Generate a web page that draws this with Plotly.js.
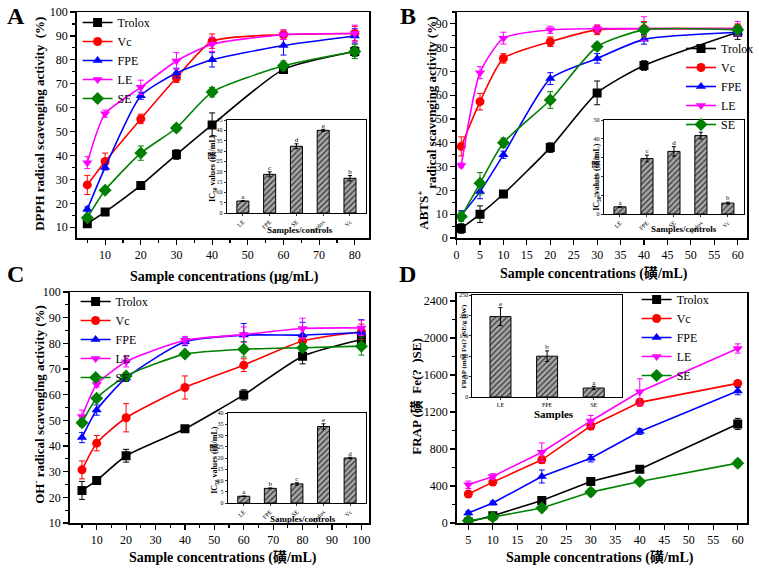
<!DOCTYPE html>
<html>
<head>
<meta charset="utf-8">
<script src="https://cdn.plot.ly/plotly-3.0.1.min.js"></script>
<style>body{margin:0;background:#fff}#chart{width:759px;height:571px}</style>
</head>
<body>
<div id="chart"></div>
<script>
// series names and styles
const names = ['Trolox', 'Vc', 'FPE', 'LE', 'SE'];
const colors = ['#000000', '#ff0000', '#0000ff', '#ff00ff', '#008000'];
const symbols = ['square', 'circle', 'triangle-up', 'triangle-down', 'diamond'];

// panel A - DPPH
const concA = [5, 10, 20, 30, 40, 60, 80];
const dpphVals = [
    [11.5, 16.4, 27.5, 40.4, 52.8, 76, 83.5],
    [27.7, 37.5, 55.3, 72.5, 87.8, 90.5, 91],
    [17.5, 35, 65, 74.5, 80, 86, 90],
    [37, 57.5, 68.5, 79.5, 86.5, 90.5, 91],
    [14, 25.5, 41, 51.5, 66.5, 77.5, 83.5]
];
const dpphErr = [
    [1.5, 1, 1.5, 2, 5, 1.5, 2],
    [4, 3.5, 2, 2, 3, 2, 3],
    [1, 1, 1.5, 2, 3, 4, 3],
    [2.5, 1.5, 3, 3.5, 3, 2, 3.5],
    [1, 1, 3, 1.5, 2, 2, 3]
];

// panel B - ABTS
const concB = [1, 5, 10, 20, 30, 40, 60];
const abtsVals = [
    [4, 10, 18.5, 38, 61, 72.5, 86.5],
    [38.5, 57.3, 75.5, 82.5, 87.5, 88, 88],
    [9.5, 19.5, 35, 67, 75.5, 83.5, 86.5],
    [30.5, 69.5, 84, 87.5, 88, 88, 88],
    [9, 23, 40, 58, 80.5, 87.5, 87.5]
];
const abtsErr = [
    [2, 3.5, 1.5, 2, 5, 2, 3],
    [4, 3.5, 2, 2, 2, 3, 2],
    [2, 3, 1.5, 2.5, 2, 2, 1.5],
    [1, 2.5, 2.5, 1.5, 1.5, 5, 3],
    [2, 4.5, 2, 3.5, 1.5, 3, 2]
];

// panel C - OH
const concC = [5, 10, 20, 40, 60, 80, 100];
const ohVals = [
    [22.7, 26.6, 36.2, 46.7, 59.9, 75, 81.5],
    [30.7, 41.1, 51, 62.8, 71.5, 80.9, 84.5],
    [43.3, 54, 66.5, 80.6, 83.2, 83.2, 84.2],
    [51.5, 64, 72.8, 81.2, 83.4, 85.8, 86],
    [49.1, 58.6, 67.3, 75.8, 77.7, 78.3, 78.9]
];
const ohErr = [
    [3.5, 1, 2.5, 1, 2, 3, 2],
    [3.5, 3, 5.5, 4.5, 2.5, 2, 3],
    [2, 2, 1, 1.5, 4.5, 5, 5],
    [2.5, 1, 2, 1.5, 3, 4, 3],
    [1.5, 1, 1, 1, 3, 1.5, 3.5]
];

// panel D - FRAP
const concD = [5, 10, 20, 30, 40, 60];
const frapVals = [
    [10, 79, 244, 449, 582, 1071],
    [313, 442, 683, 1049, 1304, 1509],
    [108, 216, 503, 700, 988, 1426],
    [413, 503, 765, 1103, 1419, 1886],
    [25, 65, 162, 334, 449, 647]
];
const frapErr = [
    [10, 20, 20, 30, 30, 60],
    [30, 30, 40, 40, 40, 30],
    [20, 20, 70, 40, 30, 40],
    [40, 30, 100, 60, 140, 50],
    [20, 20, 30, 40, 30, 40]
];

// inset bar charts
const icCats = ['LE', 'FPE', 'SE', 'Trolox', 'Vc'];
const icDpph = [5.8, 18.7, 32.3, 40, 16.8];
const icDpphErr = [0.2, 1.2, 1.2, 0.5, 1.3];
const icDpphLet = ['a', 'c', 'd', 'e', 'b'];
const icAbts = [3.8, 29.5, 33.3, 41.7, 5.8];
const icAbtsErr = [0.2, 1.8, 2.5, 1.8, 0.5];
const icAbtsLet = ['a', 'c', 'd', 'e', 'b'];
const icOh = [3, 6.5, 8.5, 34, 20];
const icOhErr = [0.1, 0.2, 0.5, 1.2, 0.3];
const icOhLet = ['a', 'b', 'c', 'e', 'd'];
const frapCats = ['LE', 'FPE', 'SE'];
const frapBar = [197, 100, 22];
const frapBarErr = [22, 13, 4];
const frapBarLet = ['e', 'b', 'a'];

const W = 759, H = 571;
const FONT = 'Liberation Serif, Times New Roman, Noto Sans CJK SC, serif';
const hx = (a, b) => [a / W, b / W];
const hy = (top, bottom) => [1 - bottom / H, 1 - top / H];

const traces = [];

function addLines(conc, vals, errs, xa, ya, legend, shape) {
    vals.forEach((v, i) => {
        traces.push({
            x: conc, y: v, xaxis: xa, yaxis: ya,
            type: 'scatter', mode: 'lines+markers', name: names[i],
            legend: legend,
            line: {color: colors[i], width: 1.6, shape: shape, smoothing: 0.6},
            marker: {symbol: symbols[i], size: i === 4 ? 10 : 9, color: colors[i]},
            error_y: {type: 'data', array: errs[i], color: colors[i], thickness: 1, width: 3}
        });
    });
}

addLines(concA, dpphVals, dpphErr, 'x', 'y', 'legend', 'spline');
addLines(concB, abtsVals, abtsErr, 'x2', 'y2', 'legend2', 'spline');
addLines(concC, ohVals, ohErr, 'x3', 'y3', 'legend3', 'spline');
addLines(concD, frapVals, frapErr, 'x4', 'y4', 'legend4', 'linear');

function addBars(cats, vals, errs, lets, xa, ya) {
    traces.push({
        x: cats, y: vals, xaxis: xa, yaxis: ya, type: 'bar', width: 0.45,
        showlegend: false,
        marker: {
            color: '#a0a0a0',
            line: {color: '#000', width: 1},
            pattern: {shape: '/', fgcolor: '#333', bgcolor: '#a8a8a8', size: 4, solidity: 0.3}
        },
        error_y: {type: 'data', array: errs, color: '#000', thickness: 1, width: 2}
    });
    traces.push({
        x: cats, y: vals.map((v, i) => v + errs[i]), xaxis: xa, yaxis: ya,
        type: 'scatter', mode: 'text', text: lets, textposition: 'top center',
        textfont: {family: FONT, size: 7, color: '#000'}, showlegend: false
    });
}

addBars(icCats, icDpph, icDpphErr, icDpphLet, 'x5', 'y5');
addBars(icCats, icAbts, icAbtsErr, icAbtsLet, 'x6', 'y6');
addBars(icCats, icOh, icOhErr, icOhLet, 'x7', 'y7');
addBars(frapCats, frapBar, frapBarErr, frapBarLet, 'x8', 'y8');

function mainAxis(extra) {
    return Object.assign({
        showline: true, linewidth: 1.5, linecolor: '#000', mirror: true,
        ticks: 'outside', ticklen: 5, tickwidth: 1.2, tickcolor: '#000',
        showgrid: false, zeroline: false,
        tickfont: {family: FONT, size: 12, color: '#000'}
    }, extra);
}

function insetAxis(extra) {
    return Object.assign({
        showline: true, linewidth: 1, linecolor: '#000', mirror: true,
        ticks: 'outside', ticklen: 2, tickwidth: 0.8, tickcolor: '#000',
        showgrid: false, zeroline: false,
        tickfont: {family: FONT, size: 6, color: '#000'}
    }, extra);
}

function legendAt(x, y) {
    return {
        x: x / W, y: 1 - y / H, xanchor: 'left', yanchor: 'top',
        bgcolor: 'rgba(0,0,0,0)', borderwidth: 0, itemwidth: 30,
        font: {family: FONT, size: 12, color: '#000'}
    };
}

function note(text, x, y, size, angle, bold) {
    return {
        text: bold === false ? text : '<b>' + text + '</b>',
        x: x / W, y: 1 - y / H, xref: 'paper', yref: 'paper',
        showarrow: false, textangle: angle || 0,
        xanchor: 'center', yanchor: 'middle',
        font: {family: FONT, size: size, color: '#000'}
    };
}

const minor5 = {dtick: 5, ticks: 'outside', ticklen: 3};

const layout = {
    width: W, height: H,
    margin: {l: 0, r: 0, t: 0, b: 0},
    paper_bgcolor: '#fff', plot_bgcolor: '#fff',
    showlegend: true,
    // main panels
    xaxis: mainAxis({anchor: 'y', domain: hx(77, 371), range: [2, 84], tick0: 10, dtick: 10, minor: minor5}),
    yaxis: mainAxis({anchor: 'x', domain: hy(12, 238), range: [5.5, 100], tick0: 10, dtick: 10, minor: minor5}),
    xaxis2: mainAxis({anchor: 'y2', domain: hx(459, 751), range: [0, 62], dtick: 5}),
    yaxis2: mainAxis({anchor: 'x2', domain: hy(12, 238), range: [0, 95], dtick: 10, minor: minor5}),
    xaxis3: mainAxis({anchor: 'y3', domain: hx(70, 371), range: [0.8, 102.6], tick0: 10, dtick: 10, minor: minor5}),
    yaxis3: mainAxis({anchor: 'x3', domain: hy(292, 523), range: [10, 100], dtick: 10, minor: minor5}),
    xaxis4: mainAxis({anchor: 'y4', domain: hx(459, 751), range: [2.6, 61.9], tick0: 5, dtick: 5}),
    yaxis4: mainAxis({anchor: 'x4', domain: hy(293, 523), range: [0, 2486], dtick: 400,
        minor: {dtick: 200, ticks: 'outside', ticklen: 3}}),
    // insets
    xaxis5: insetAxis({anchor: 'y5', domain: hx(228, 368), type: 'category', range: [-0.6, 4.6], tickangle: -45}),
    yaxis5: insetAxis({anchor: 'x5', domain: hy(120, 213), range: [0, 45], dtick: 5}),
    xaxis6: insetAxis({anchor: 'y6', domain: hx(607, 748), type: 'category', range: [-0.6, 4.6], tickangle: -45}),
    yaxis6: insetAxis({anchor: 'x6', domain: hy(120, 214), range: [0, 50], dtick: 10}),
    xaxis7: insetAxis({anchor: 'y7', domain: hx(229, 368), type: 'category', range: [-0.6, 4.6], tickangle: -45}),
    yaxis7: insetAxis({anchor: 'x7', domain: hy(413, 503), range: [0, 40], dtick: 5}),
    xaxis8: insetAxis({anchor: 'y8', domain: hx(475, 625), type: 'category', range: [-0.6, 2.6]}),
    yaxis8: insetAxis({anchor: 'x8', domain: hy(295, 397), range: [0, 250], dtick: 50}),
    legend: legendAt(78, 8),
    legend2: legendAt(685, 34),
    legend3: legendAt(76, 287),
    legend4: legendAt(640, 285),
    annotations: [
        note('A', 16, 16, 24),
        note('B', 410, 16, 24),
        note('C', 16, 274, 24),
        note('D', 410, 274, 24),
        note('DPPH radical scavenging activity  (%)', 40, 124, 13, -90),
        note('Sample concentrations (μg/mL)', 226, 277, 14),
        note('ABTS<sup>+</sup>', 425, 210, 13, -90),
        note('radical scavenging activity (%)', 434, 103, 13, -90),
        note('Sample concentrations (磺/mL)', 597, 273, 14),
        note('OH<sup>-</sup> radical scavenging activity (%)', 39, 404, 13, -90),
        note('Sample concentrations (磺/mL)', 224, 557, 14),
        note('FRAP (磺  Fe(?  )SE)', 418, 396, 13, -90),
        note('Sample concentrations (磺/mL)', 603, 557, 14),
        note('IC<sub>50</sub> values (磺/mL)', 213, 168, 8, -90),
        note('Samples/controls', 302, 230, 9),
        note('IC<sub>50</sub> values (磺/mL)', 599, 177, 8, -90),
        note('Samples/controls', 688, 229, 9),
        note('IC<sub>50</sub> values (磺/mL)', 215, 460, 8, -90),
        note('Samples/controls', 305, 519, 9),
        note('FRAP (mM Fe(? )SE/g DW)', 466, 346, 7, -90),
        note('Samples', 557, 414, 11)
    ]
};

Plotly.newPlot('chart', traces, layout, {displayModeBar: false, staticPlot: true});
</script>
</body>
</html>
